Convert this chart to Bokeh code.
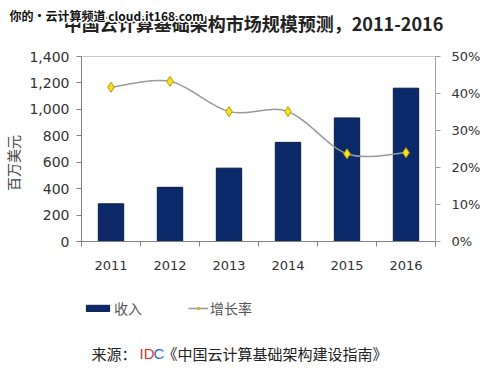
import math
from bokeh.plotting import figure
from bokeh.layouts import column
from bokeh.models import (Range1d, LinearAxis, FixedTicker, NumeralTickFormatter,
                          Label, Legend, LegendItem, ColumnDataSource)
from bokeh.embed import file_html
from bokeh.resources import INLINE

# ---- data ----
years = ["2011", "2012", "2013", "2014", "2015", "2016"]
revenue = [285, 410, 555, 750, 935, 1160]          # 收入 (百万美元)
growth = [0.417, 0.433, 0.351, 0.351, 0.237, 0.240]  # 增长率
left_ticks = [0, 200, 400, 600, 800, 1000, 1200, 1400]
right_ticks = [0, 0.1, 0.2, 0.3, 0.4, 0.5]

title_text = "中国云计算基础架构市场规模预测，2011-2016"
watermark_text = "你的·云计算频道 cloud.it168.com"
ylabel_text = "百万美元"
legend_bar = "收入"
legend_line = "增长率"
source_parts = ["来源：", "ID", "C", "《中国云计算基础架构建设指南》"]

n = len(years)
xs = [i + 0.5 for i in range(n)]

TICK_FONT = "DejaVu Sans"
CJK = "Noto Sans CJK SC"
BAR_FILL = "#0c2a6a"
BAR_LINE = "#081a44"
LINE_COL = "#9a9a9a"
MK_FILL = "#f6e01e"
MK_LINE = "#b49c00"

W = 500
H_HEAD = 46
H_MAIN = 235
H_FOOT = 96


def blank_fig(h, y0):
    f = figure(width=W, height=h, output_backend="svg", toolbar_location=None,
               x_range=Range1d(0, W), y_range=Range1d(y0 + h, y0),
               x_axis_location=None, y_axis_location=None,
               min_border=0)
    f.grid.visible = False
    f.outline_line_color = None
    f.background_fill_color = "white"
    f.border_fill_color = "white"
    try:
        f.frame_align = False
    except Exception:
        pass
    return f


# ---- header ----
head = blank_fig(H_HEAD, 0)
head.add_layout(Label(x=253, y=22, text=title_text, text_align="center",
                      text_baseline="middle", text_font=CJK, text_font_size="18px",
                      text_font_style="bold", text_color="#222222"))
# watermark with a white halo (drawn as offset white copies under the black text)
for dx, dy in [(-1, -1), (0, -1), (1, -1), (-1, 0), (1, 0), (-1, 1), (0, 1), (1, 1),
               (-2, 0), (2, 0), (0, -2), (0, 2)]:
    head.add_layout(Label(x=9, y=15, x_offset=dx, y_offset=dy, text=watermark_text,
                          text_align="left", text_baseline="middle", text_font=CJK,
                          text_font_size="12px", text_font_style="bold",
                          text_color="white"))
head.add_layout(Label(x=9, y=15, text=watermark_text, text_align="left",
                      text_baseline="middle", text_font=CJK, text_font_size="12px",
                      text_font_style="bold", text_color="#111111"))

# ---- main chart ----
p = figure(width=W, height=H_MAIN, output_backend="svg", toolbar_location=None,
           x_range=Range1d(0, n), y_range=Range1d(0, 1400),
           min_border_left=80, min_border_right=65, min_border_top=10,
           min_border_bottom=40)
p.extra_y_ranges = {"pct": Range1d(0, 0.5)}
p.grid.visible = False
p.outline_line_color = "#c8c8c8"
p.outline_line_width = 1
p.background_fill_color = "white"
p.border_fill_color = "white"

src = ColumnDataSource(dict(x=xs, top=revenue))
p.vbar(x="x", top="top", width=0.43, source=src,
       fill_color=BAR_FILL, line_color=BAR_LINE, line_width=1)

# smooth growth line (Bezier through the data points, Excel-like smoothing)
x0s, y0s, x1s, y1s, cx0, cy0, cx1, cy1 = [], [], [], [], [], [], [], []
for i in range(n - 1):
    xp, yp = (xs[i - 1], growth[i - 1]) if i > 0 else (xs[i], growth[i])
    xn, yn = (xs[i + 2], growth[i + 2]) if i + 2 < n else (xs[i + 1], growth[i + 1])
    x0s.append(xs[i]); y0s.append(growth[i])
    x1s.append(xs[i + 1]); y1s.append(growth[i + 1])
    cx0.append(xs[i] + (xs[i + 1] - xp) / 6); cy0.append(growth[i] + (growth[i + 1] - yp) / 6)
    cx1.append(xs[i + 1] - (xn - xs[i]) / 6); cy1.append(growth[i + 1] - (yn - growth[i]) / 6)
p.bezier(x0=x0s, y0=y0s, x1=x1s, y1=y1s, cx0=cx0, cy0=cy0, cx1=cx1, cy1=cy1,
         line_color=LINE_COL, line_width=1.5, y_range_name="pct")
p.scatter(x=xs, y=growth, marker="diamond", size=10, fill_color=MK_FILL,
          line_color=MK_LINE, line_width=1, y_range_name="pct")

ax = p.xaxis[0]
ax.ticker = FixedTicker(ticks=xs, minor_ticks=list(range(n + 1)))
ax.major_label_overrides = {x: y for x, y in zip(xs, years)}
ax.major_tick_out = 0
ax.major_tick_in = 0
ax.minor_tick_out = 5
ax.minor_tick_in = 0
ax.minor_tick_line_color = "#808080"
ax.axis_line_color = "#808080"
ax.major_label_standoff = 14
ax.major_label_text_font = TICK_FONT
ax.major_label_text_font_size = "13px"
ax.major_label_text_color = "#333333"

ay = p.yaxis[0]
ay.ticker = FixedTicker(ticks=left_ticks)
ay.formatter = NumeralTickFormatter(format="0,0")
ay.major_tick_out = 5
ay.major_tick_in = 0
ay.minor_tick_out = 0
ay.minor_tick_in = 0
ay.axis_line_color = "#808080"
ay.major_tick_line_color = "#808080"
ay.major_label_standoff = 7
ay.major_label_text_font = TICK_FONT
ay.major_label_text_font_size = "14px"
ay.major_label_text_color = "#333333"
ay.axis_label = ylabel_text + "\u3000\u3000"
ay.axis_label_text_font = CJK
ay.axis_label_text_font_size = "14px"
ay.axis_label_text_font_style = "normal"
ay.axis_label_text_color = "#444444"
ay.axis_label_standoff = 3

ar = LinearAxis(y_range_name="pct", ticker=FixedTicker(ticks=right_ticks),
                formatter=NumeralTickFormatter(format="0%"))
ar.major_tick_out = 5
ar.major_tick_in = 0
ar.minor_tick_out = 0
ar.minor_tick_in = 0
ar.axis_line_color = "#a0a0a0"
ar.major_tick_line_color = "#a0a0a0"
ar.major_label_standoff = 11
ar.major_label_text_font = TICK_FONT
ar.major_label_text_font_size = "13px"
ar.major_label_text_color = "#333333"
p.add_layout(ar, "right")

# ---- footer: legend + source ----
foot = blank_fig(H_FOOT, H_HEAD + H_MAIN)
# legend proxies: the series on hidden ranges (zero-height bars) so only swatches show
foot.extra_x_ranges = {"hide": Range1d(1000, 2000)}
foot.extra_y_ranges = {"hidey": Range1d(5000, 6000)}
lb = foot.vbar(x=xs, top=revenue, bottom=revenue, width=0.43, fill_color=BAR_FILL,
               line_color=BAR_LINE, x_range_name="hide", y_range_name="hidey")
ll = foot.line(x=xs, y=growth, line_color=LINE_COL, line_width=1.5,
               x_range_name="hide", y_range_name="hidey")
lm = foot.scatter(x=xs, y=growth, marker="diamond", size=9, fill_color=MK_FILL,
                  line_color=MK_LINE, line_width=1, x_range_name="hide",
                  y_range_name="hidey")
common = dict(orientation="horizontal", padding=0, margin=0, border_line_color=None,
              background_fill_alpha=0, label_text_font=CJK, label_text_font_size="14px",
              label_text_color="#555555", label_standoff=2, glyph_height=8,
              label_height=20)
foot.add_layout(Legend(items=[LegendItem(label=legend_bar, renderers=[lb])],
                       location=(83, 59), glyph_width=29, **common), "center")
foot.add_layout(Legend(items=[LegendItem(label=legend_line, renderers=[ll, lm])],
                       location=(188, 59), glyph_width=20, **common), "center")

src_x = [91, 139, 153, 162]
src_col = ["#222222", "#e0302a", "#2a6ad0", "#222222"]
src_font = [CJK, "Liberation Sans", "Liberation Sans", CJK]
for txt, sx, col, fnt in zip(source_parts, src_x, src_col, src_font):
    foot.add_layout(Label(x=sx, y=353, text=txt, text_align="left",
                          text_baseline="middle", text_font=fnt,
                          text_font_size="15px", text_color=col))

layout = column(head, p, foot, spacing=0)
open("out.html", "w").write(file_html(layout, INLINE))
